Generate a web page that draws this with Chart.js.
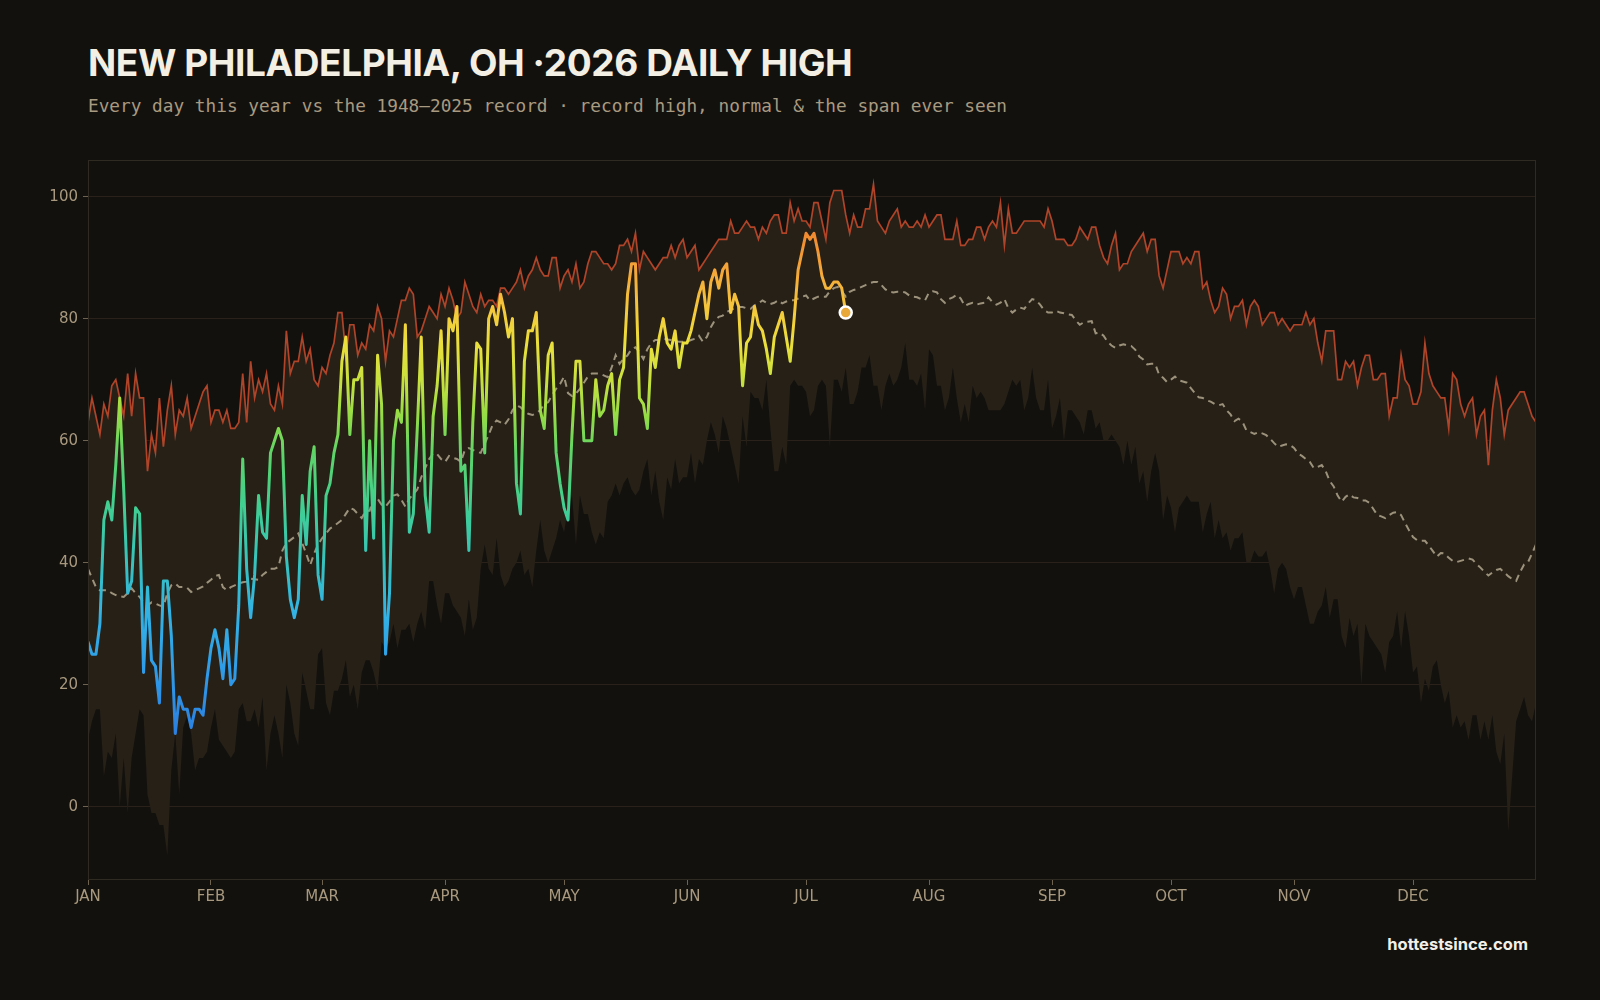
<!DOCTYPE html>
<html>
<head>
<meta charset="utf-8">
<title>New Philadelphia daily high</title>
<script src="https://cdn.jsdelivr.net/npm/chart.js@4.4.1/dist/chart.umd.min.js"></script>
<style>
  html, body { margin: 0; padding: 0; background: #13110e; }
  body { width: 1600px; height: 1000px; position: relative; overflow: hidden; }
  #title { position: absolute; left: 88px; top: 44px; font: 700 37px Inter, sans-serif; letter-spacing: -0.4px; line-height: 1; color: #f4efe4; white-space: nowrap; }
  #sub { position: absolute; left: 88px; top: 98px; font: 17.75px "DejaVu Sans Mono", monospace; line-height: 1; color: #a89a80; white-space: nowrap; }
  #wrap { position: absolute; left: 40px; top: 146px; width: 1510px; height: 774px; }
  #credit { position: absolute; right: 72px; top: 936px; font: 700 16.5px Inter, sans-serif; line-height: 1; color: #f2efe8; }
</style>
</head>
<body>
<div id="title">NEW PHILADELPHIA, OH ·2026 DAILY HIGH</div>
<div id="sub">Every day this year vs the 1948–2025 record · record high, normal &amp; the span ever seen</div>
<div id="wrap"><canvas id="chart"></canvas></div>
<div id="credit">hottestsince.com</div>
<script>
// month starts (day of year, 0-based) and their labels
const monthStarts = [0, 31, 59, 90, 120, 151, 181, 212, 243, 273, 304, 334];
const monthLabels = ['JAN', 'FEB', 'MAR', 'APR', 'MAY', 'JUN', 'JUL', 'AUG', 'SEP', 'OCT', 'NOV', 'DEC'];
const yTicks = [0, 20, 40, 60, 80, 100];

// record high for each day, 1948-2025
const recordHigh = [
  63,67,64,61,66,64,69,70,67,64, 71,64,71,67,67,55,61,58,67,59,
  65,69,61,65,64,67,62,64,66,68, 69,63,65,65,63,65,62,62,63,71,
  63,73,67,70,68,71,66,65,69,66, 78,71,73,73,77,73,75,70,69,72,
  71,74,76,81,81,74,79,79,74,76, 75,79,78,82,80,73,78,77,80,83,
  83,85,84,77,78,80,82,81,80,84, 82,85,83,80,81,86,84,82,81,84,
  82,83,83,82,85,85,84,85,86,88, 85,87,88,90,88,87,87,90,90,85,
  87,88,86,89,85,86,89,91,91,90, 89,89,88,89,92,92,93,91,94,88,
  91,90,89,88,89,90,90,92,90,92, 93,90,91,92,88,89,90,91,92,93,
  93,93,96,94,94,95,96,95,95,93, 95,94,96,97,97,94,94,99,96,98,
  96,96,95,99,99,96,93,99,101,101, 101,97,94,97,95,95,98,98,102,96,
  95,94,96,97,98,95,96,95,95,96, 95,97,95,96,97,97,93,93,93,96,
  92,92,93,93,95,95,93,95,96,95, 99,92,98,94,94,95,96,96,96,96,
  96,95,98,96,93,93,93,92,92,93, 95,94,93,95,95,92,90,89,92,94,
  88,89,89,91,92,93,94,91,93,93, 87,85,88,91,91,91,89,90,89,91,
  91,85,86,83,81,82,85,84,80,82, 82,83,79,82,83,82,79,80,81,81,
  79,80,79,78,79,79,79,81,79,80, 76,73,78,78,78,70,70,73,72,73,
  69,72,74,74,70,70,71,71,64,67, 67,74,70,69,66,66,68,76,71,69,
  68,67,67,62,71,70,66,64,66,67, 61,64,65,56,65,70,67,61,65,66,
  67,68,68,66,64,63
];

// record low of the daily high, 1948-2025
const recordLow = [
  11,14,16,16,5,9,8,12,0,8, -1,8,12,16,15,2,-1,-1,-3,-3,
  -8,6,12,2,13,15,12,6,8,8, 9,13,16,11,10,9,8,9,16,17,
  14,14,16,13,18,6,12,15,12,8, 20,17,12,10,22,19,16,16,25,26,
  17,15,19,19,21,24,18,20,16,22, 24,24,22,19,27,26,27,30,26,29,
  29,30,27,30,32,29,37,37,33,30, 35,35,33,32,31,28,34,29,31,39,
  43,39,38,44,38,36,37,39,40,42, 38,39,36,42,47,42,40,42,44,47,
  45,49,51,43,51,48,48,45,43,45, 44,50,51,53,51,53,54,52,51,52,
  55,57,51,55,50,47,54,52,57,53, 54,54,58,53,57,56,60,63,61,58,
  64,62,59,56,53,64,59,68,67,67, 65,70,62,55,55,59,56,69,70,69,
  69,68,64,65,69,70,69,59,70,70, 68,72,66,66,68,72,72,74,69,69,
  65,69,71,69,70,72,76,70,70,69, 71,65,75,74,69,69,65,67,72,67,
  63,66,63,69,67,68,67,65,65,65, 65,66,68,70,69,70,65,67,72,67,
  65,65,70,62,64,67,60,65,65,64, 63,61,65,65,62,63,60,60,61,60,
  59,56,60,56,59,53,55,50,55,58, 55,47,51,49,45,49,50,51,50,50,
  50,45,48,50,44,47,44,45,42,44, 44,45,40,40,42,41,41,42,39,35,
  39,40,39,36,34,36,36,33,30,30, 32,33,36,31,34,34,28,26,31,28,
  30,20,30,28,27,26,25,22,27,28, 32,26,32,28,22,23,17,21,19,23,
  24,20,17,19,13,15,13,14,11,15, 15,11,14,11,15,9,7,12,-4,5,
  14,16,18,15,14,17
];

// normal daily high
const normalHigh = [
  39,37.5,36,35.5,35.5,35.5,35,34.7,34.5,34.4, 35,35.8,35,34.4,33.5,33,33.5,33.3,33,32.8,
  35,36.3,36.6,36,36,35.9,35.2,35.5,35.8,36.1, 36.7,37.2,37.8,38,36,35.5,36,36.3,36.6,36.8,
  36.9,37.4,37.3,37.2,38,38.5,39,39,39.3,42, 43.2,43.7,44.2,44.8,43.2,41.5,39.6,41.5,43,44,
  44.8,45.6,46,46.5,47,48,49,48.7,48,47.3, 48.5,48.5,51,50.5,49.5,49.2,50,51,51.2,50.3,
  49.2,50.5,51.2,52,54,55.5,57,57.9,57.8,57, 56.5,57.5,57.2,57,56.5,58.5,58.8,58.5,58.2,58,
  59.5,61,62.6,63.3,63,62.6,63.5,65,65.8,65.5, 64.8,64.4,64.2,64.5,65,66,66.3,67.5,68.5,69.3,
  70.5,67.8,67.3,67.7,68.5,69.5,70.5,71,71,71, 70.7,70.4,72,74,72.6,73.4,74,75,75.3,74.5,
  73.4,75,76,76.5,76.5,76.7,76.6,76.5,76.3,76.2, 76.2,76.2,76.5,76.7,77.2,76.2,77,78.6,79.7,80.3,
  80.5,81.1,81.4,81.7,81.9,81.9,81.7,81.6,82.2,82.5, 83,82.6,82.4,82.6,83,82.5,82.8,83,83,83.3,
  83.6,83.8,83,83.3,83.6,83.6,83.6,84.5,85,85.2, 84.5,83.6,84.4,84.7,84.9,85.2,85.5,85.8,86,86,
  85.5,84.8,84.4,84.3,84.4,84.4,84.3,83.8,83.6,83.5, 83.2,83,84.3,84.5,84.3,83.2,82.6,83.2,83.5,83.9,
  83.3,82.1,82.4,82.6,82.3,82.5,82.6,83.5,82.7,82.3, 82.6,83.2,81.7,81,81.5,81.8,81.6,82.5,83.2,83,
  82.3,81.4,81,81,81.3,81,80.9,80.7,80.6,79.7, 79,79.4,79.5,79.6,77.6,77.7,77.2,76.2,75.6,75.2,
  75.6,75.8,75.6,75.5,74.9,73.8,73.3,72.5,72.6,72.6, 70.8,70.3,69.6,70,70.5,69.9,69.7,69.5,68.6,67.8,
  67.1,67,66.6,66.4,66,65.8,66,65,64.3,63.2, 63.6,63.1,61.7,61.4,61.1,61.4,61.2,60.9,60.3,59.6,
  59,59.2,59.4,59.3,58.8,57.9,57.5,57,56.5,55.5, 55.7,56,55,53.4,52.5,51,50,50.8,51.2,50.7,
  50.6,50.2,50.2,49.8,48.8,47.8,47.6,47.3,47.8,48.2, 48.3,47.8,46.5,45.3,44.2,43.7,43.6,43.6,42.8,41.9,
  41,41.6,41.5,40.8,40.3,40.1,40.3,40.5,40.7,40.5, 39.8,39.2,38.5,37.9,38.4,38.8,39,38.4,37.8,37.3,
  37,38.5,39.7,40.1,41.5,43
];

// 2026 daily highs so far (Jan 1 - Jul 11)
const daily2026 = [
  27,25,25,30,47,50,47,56,67,52, 35,37,49,48,22,36,24,23,17,37,
  37,28,12,18,16,16,13,16,16,15, 21,26,29,26,21,29,20,21,33,57,
  39,31,38,51,45,44,58,60,62,60, 41,34,31,34,51,43,55,59,38,34,
  51,53,58,61,73,77,61,70,70,72, 42,60,44,74,66,25,35,60,65,63,
  79,45,48,62,77,51,45,64,69,78, 61,80,78,82,55,56,42,63,76,75,
  58,80,82,79,84,81,77,80,53,48, 73,78,78,81,65,62,74,76,58,53,
  49,47,61,73,73,60,60,60,70,64, 65,69,71,61,70,72,84,89,89,67,
  66,62,75,72,77,80,76,75,78,72, 76,76,78,81,84,86,80,86,88,85,
  88,89,81,84,82,69,76,77,82,79, 78,75,71,77,79,81,77,73,80,88,
  91,94,93,94,91,87,85,85,86,86, 85,81
];

const toPoints = arr => arr.map((v, i) => ({ x: i, y: v }));

// colour of the 2026 line by temperature
const tempStops = [
  [0, '#2a6fd8'], [12, '#2c80e0'], [22, '#2f9be8'], [32, '#33b3e4'], [42, '#38c6b4'],
  [50, '#42cf8e'], [58, '#5ed468'], [64, '#94dc46'], [70, '#c9e13e'], [76, '#ebdf3c'],
  [82, '#f5c63c'], [88, '#f4a63a'], [94, '#f08930'], [100, '#ec7a2c']
];

let gradCache = null, gradKey = '';
function tempGradient(chart) {
  const y = chart.scales.y;
  const y0 = y.getPixelForValue(0), y1 = y.getPixelForValue(100);
  const key = y0 + ':' + y1;
  if (gradCache && gradKey === key) return gradCache;
  const g = chart.ctx.createLinearGradient(0, y0, 0, y1);
  tempStops.forEach(([v, c]) => g.addColorStop(v / 100, c));
  gradCache = g; gradKey = key;
  return g;
}

const frame = {
  id: 'frame',
  afterDraw(chart) {
    const { ctx, chartArea: a } = chart;
    ctx.save();
    ctx.strokeStyle = '#2f2a22';
    ctx.lineWidth = 1;
    ctx.strokeRect(a.left + 0.5, a.top + 0.5, a.right - a.left - 1, a.bottom - a.top - 1);
    ctx.restore();
  }
};

const last = daily2026.length - 1;

new Chart(document.getElementById('chart'), {
  type: 'line',
  data: {
    datasets: [
      {
        label: '2026',
        data: toPoints(daily2026),
        order: 0,
        borderWidth: 3,
        borderColor: c => c.chart.chartArea ? tempGradient(c.chart) : '#ccc',
        borderJoinStyle: 'round',
        borderCapStyle: 'round',
        pointRadius: c => c.dataIndex === last ? 6 : 0,
        pointBackgroundColor: '#e8a83a',
        pointBorderColor: '#ffffff',
        pointBorderWidth: 2.5,
        fill: false
      },
      {
        label: 'Normal',
        data: toPoints(normalHigh),
        order: 1,
        borderColor: 'rgba(170,158,134,0.9)',
        borderWidth: 2,
        borderDash: [7, 5],
        pointRadius: 0,
        fill: false
      },
      {
        label: 'Record high',
        data: toPoints(recordHigh),
        order: 2,
        borderColor: '#b04428',
        borderWidth: 1.7,
        pointRadius: 0,
        fill: { target: 3, above: '#262017', below: '#262017' }
      },
      {
        label: 'Record low',
        data: toPoints(recordLow),
        order: 3,
        borderWidth: 0,
        borderColor: 'rgba(0,0,0,0)',
        pointRadius: 0,
        fill: false
      }
    ]
  },
  options: {
    responsive: true,
    maintainAspectRatio: false,
    animation: false,
    layout: { padding: { top: 10, right: 14, left: 0, bottom: 0 } },
    plugins: { legend: { display: false }, tooltip: { enabled: false } },
    elements: { line: { tension: 0 } },
    scales: {
      x: {
        type: 'linear',
        min: 0,
        max: 365,
        afterBuildTicks: s => { s.ticks = monthStarts.map(v => ({ value: v })); },
        afterFit: s => { s.height = 40; },
        ticks: {
          color: '#a8997e',
          font: { family: 'DejaVu Sans', size: 15 },
          padding: 3,
          maxRotation: 0,
          autoSkip: false,
          callback: v => monthLabels[monthStarts.indexOf(v)]
        },
        grid: { drawOnChartArea: false, drawTicks: true, tickLength: 5, tickColor: '#6e6350' },
        border: { display: false }
      },
      y: {
        min: -12,
        max: 106,
        afterBuildTicks: s => { s.ticks = yTicks.map(v => ({ value: v })); },
        afterFit: s => { s.width = 48; },
        ticks: {
          color: '#a8997e',
          font: { family: 'DejaVu Sans', size: 15 },
          padding: 5
        },
        grid: { color: '#2a211b', lineWidth: 1, drawTicks: true, tickLength: 5, tickColor: '#6e6350' },
        border: { display: false }
      }
    }
  },
  plugins: [frame]
});
</script>
</body>
</html>
